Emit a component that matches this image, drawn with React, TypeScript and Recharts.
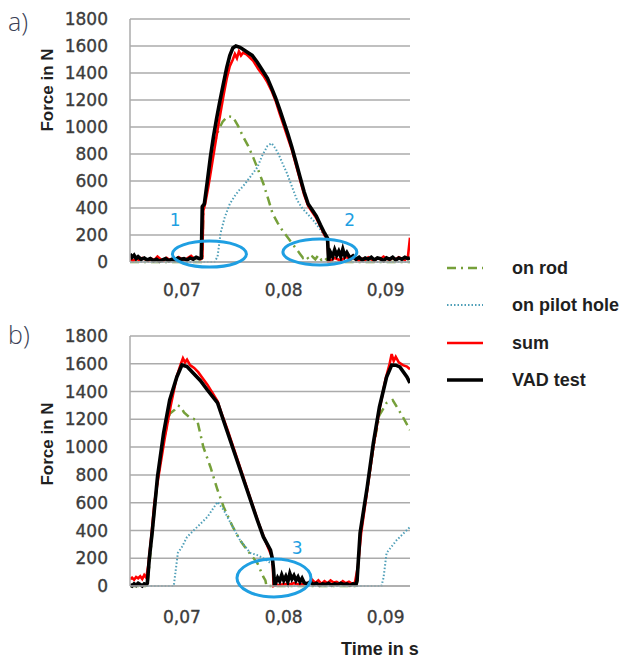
import React from 'react';
import { LineChart, Line, XAxis, YAxis, CartesianGrid, ReferenceDot } from 'recharts';

type Pt = [number, number];

// ---------- axes ----------
const timeTicks = [0.07, 0.08, 0.09];
const forceTicks = [0, 200, 400, 600, 800, 1000, 1200, 1400, 1600, 1800];
const timeDomain: [number, number] = [0.0649, 0.0924];
const forceDomain: [number, number] = [0, 1800];

// ---------- chart a) : [time in s, force in N] ----------
const aRod: Pt[] = [
  [0.0649, 0], [0.0720, 0], [0.0721, 380], [0.0724, 520], [0.0728, 720], [0.0732, 880], [0.0736, 980],
  [0.0740, 1040], [0.0745, 1080], [0.0750, 1075], [0.0755, 1010], [0.0760, 930], [0.0765, 860],
  [0.0770, 775], [0.0775, 680], [0.0780, 580], [0.0785, 460], [0.0789, 360], [0.0794, 290],
  [0.0799, 230], [0.0803, 190], [0.0807, 150], [0.0811, 110], [0.0816, 60], [0.0819, 30],
  [0.0822, 45], [0.0825, 15], [0.0828, 40], [0.0831, 20], [0.0834, 50], [0.0837, 15], [0.0840, 35],
  [0.0843, 10], [0.0844, 0], [0.0924, 0],
];
const aPilot: Pt[] = [
  [0.0649, 0], [0.0732, 0], [0.0735, 40], [0.0738, 215], [0.0742, 330], [0.0747, 430], [0.0752, 490],
  [0.0756, 530], [0.0760, 560], [0.0765, 610], [0.0770, 660], [0.0774, 700], [0.0779, 790],
  [0.0784, 860], [0.0788, 880], [0.0792, 840], [0.0796, 780], [0.0800, 710], [0.0803, 660],
  [0.0806, 600], [0.0810, 520], [0.0813, 460], [0.0818, 400], [0.0824, 350], [0.0830, 300],
  [0.0836, 240], [0.0840, 190], [0.0843, 160], [0.0844, 0], [0.0924, 0],
];
const aSum: Pt[] = [
  [0.0649, 20], [0.0652, 10], [0.0655, 25], [0.0658, 15], [0.0661, 30], [0.0664, 20], [0.0667, 10],
  [0.0670, 25], [0.0673, 15], [0.0676, 40], [0.0679, 20], [0.0682, 10], [0.0685, 30], [0.0688, 15],
  [0.0691, 25], [0.0694, 10], [0.0697, 35], [0.0700, 20], [0.0703, 15], [0.0706, 30], [0.0709, 45],
  [0.0712, 25], [0.0715, 35], [0.0718, 20], [0.0720, 30],
  [0.0721, 380], [0.0723, 440], [0.0726, 560], [0.0729, 700], [0.0732, 840], [0.0735, 980],
  [0.0738, 1110], [0.0741, 1240], [0.0744, 1360], [0.0747, 1450], [0.0750, 1500], [0.0752, 1540],
  [0.0754, 1510], [0.0756, 1560], [0.0758, 1530], [0.0760, 1550], [0.0763, 1540], [0.0766, 1520],
  [0.0770, 1490], [0.0775, 1430], [0.0780, 1380], [0.0784, 1330], [0.0788, 1270], [0.0792, 1195],
  [0.0796, 1100], [0.0800, 1010], [0.0804, 920], [0.0808, 830], [0.0812, 720], [0.0816, 610],
  [0.0820, 500], [0.0824, 415], [0.0828, 370], [0.0832, 325], [0.0836, 265], [0.0840, 200],
  [0.0843, 165],
  [0.0844, 5], [0.0847, 15], [0.0850, 30], [0.0853, 20], [0.0856, 10], [0.0859, 25], [0.0862, 40],
  [0.0865, 15], [0.0868, 30], [0.0871, 20], [0.0874, 10], [0.0877, 25], [0.0880, 15], [0.0883, 35],
  [0.0886, 20], [0.0889, 10], [0.0892, 30], [0.0895, 20], [0.0898, 40], [0.0901, 25], [0.0904, 15],
  [0.0907, 30], [0.0910, 20], [0.0913, 35], [0.0916, 25], [0.0919, 15], [0.0922, 40], [0.0924, 180],
];
const aVad: Pt[] = [
  [0.0649, 60], [0.0651, 35], [0.0653, 50], [0.0655, 25], [0.0657, 40], [0.0660, 20], [0.0663, 30],
  [0.0666, 15], [0.0669, 25], [0.0672, 10], [0.0675, 20], [0.0678, 5], [0.0681, 15], [0.0684, 25],
  [0.0687, 10], [0.0690, 20], [0.0693, 15], [0.0696, 30], [0.0699, 20], [0.0702, 25], [0.0705, 15],
  [0.0708, 30], [0.0711, 20], [0.0714, 35], [0.0717, 25], [0.0719, 30],
  [0.0720, 410], [0.0722, 430], [0.0725, 600], [0.0728, 780], [0.0731, 930], [0.0734, 1060],
  [0.0737, 1180], [0.0741, 1330], [0.0744, 1440], [0.0747, 1530], [0.0750, 1585], [0.0753, 1600],
  [0.0757, 1590], [0.0761, 1570], [0.0765, 1550], [0.0769, 1530], [0.0774, 1480], [0.0779, 1420],
  [0.0784, 1360], [0.0788, 1290], [0.0792, 1215], [0.0796, 1130], [0.0800, 1040], [0.0804, 950],
  [0.0808, 850], [0.0812, 740], [0.0816, 630], [0.0820, 520], [0.0824, 430], [0.0828, 385],
  [0.0832, 340], [0.0836, 275], [0.0840, 215], [0.0843, 175],
  [0.0844, 10], [0.0846, 70], [0.0848, 40], [0.0850, 90], [0.0852, 50], [0.0854, 80], [0.0856, 40],
  [0.0858, 95], [0.0860, 45], [0.0862, 70], [0.0865, 30], [0.0868, 45], [0.0871, 20], [0.0874, 35],
  [0.0877, 15], [0.0880, 30], [0.0883, 20], [0.0886, 35], [0.0889, 15], [0.0892, 30], [0.0895, 25],
  [0.0898, 10], [0.0901, 30], [0.0904, 20], [0.0907, 35], [0.0910, 15], [0.0913, 30], [0.0916, 20],
  [0.0919, 35], [0.0922, 25], [0.0924, 30],
];

// ---------- chart b) ----------
const bRod: Pt[] = [
  [0.0649, 0], [0.0666, 0], [0.0668, 150], [0.0671, 390], [0.0676, 760], [0.0682, 1050],
  [0.0688, 1240], [0.0693, 1270], [0.0696, 1300], [0.0699, 1290], [0.0702, 1250], [0.0708, 1210],
  [0.0715, 1195], [0.0721, 1001], [0.0728, 857], [0.0735, 691], [0.0741, 569], [0.0750, 425],
  [0.0757, 331], [0.0764, 259], [0.0774, 166], [0.0780, 65], [0.0782, 40], [0.0783, 0],
  [0.0872, 0], [0.0875, 380], [0.0882, 700], [0.0888, 1000], [0.0894, 1230], [0.0901, 1318],
  [0.0907, 1339], [0.0917, 1217], [0.0924, 1123],
];
const bPilot: Pt[] = [
  [0.0649, 0], [0.0655, 0], [0.0660, 10], [0.0665, 0], [0.0692, 0], [0.0694, 120], [0.0696, 238],
  [0.0700, 281], [0.0705, 353], [0.0715, 425], [0.0725, 497], [0.0735, 605], [0.0741, 547],
  [0.0750, 425], [0.0757, 331], [0.0767, 238], [0.0775, 220], [0.0782, 190], [0.0788, 160],
  [0.0790, 140], [0.0791, 0], [0.0896, 0], [0.0898, 60], [0.0901, 238], [0.0911, 331], [0.0924, 425],
];
const bSum: Pt[] = [
  [0.0649, 50], [0.0651, 60], [0.0653, 45], [0.0655, 65], [0.0657, 55], [0.0659, 70], [0.0661, 50],
  [0.0663, 80], [0.0665, 60], [0.0667, 150], [0.0670, 360], [0.0673, 600], [0.0677, 790],
  [0.0683, 1060], [0.0689, 1300], [0.0695, 1510], [0.0699, 1600], [0.0701, 1640], [0.0703, 1610],
  [0.0705, 1630], [0.0708, 1590], [0.0712, 1570], [0.0716, 1540], [0.0720, 1500], [0.0725, 1450],
  [0.0730, 1390], [0.0735, 1330], [0.0740, 1220], [0.0745, 1120], [0.0750, 1010], [0.0755, 900],
  [0.0760, 790], [0.0765, 680], [0.0770, 570], [0.0775, 460], [0.0780, 360], [0.0785, 270],
  [0.0789, 200], [0.0790, 0],
  [0.0793, 10], [0.0796, 5], [0.0800, 15], [0.0805, 10], [0.0810, 20], [0.0815, 10], [0.0820, 15],
  [0.0825, 25], [0.0828, 45], [0.0831, 20], [0.0834, 40], [0.0837, 15], [0.0840, 35], [0.0843, 20],
  [0.0846, 40], [0.0849, 25], [0.0852, 30], [0.0855, 15], [0.0858, 35], [0.0861, 20], [0.0864, 30],
  [0.0867, 15], [0.0870, 25],
  [0.0873, 150], [0.0876, 380], [0.0882, 690], [0.0888, 1000], [0.0894, 1270], [0.0900, 1490],
  [0.0904, 1600], [0.0906, 1670], [0.0908, 1620], [0.0910, 1650], [0.0913, 1610], [0.0917, 1590],
  [0.0921, 1580], [0.0924, 1560],
];
const bVad: Pt[] = [
  [0.0649, 10], [0.0651, 0], [0.0653, 15], [0.0655, 5], [0.0657, 20], [0.0659, 10], [0.0661, 0],
  [0.0663, 15], [0.0665, 10], [0.0666, 20],
  [0.0668, 200], [0.0671, 403], [0.0676, 785], [0.0682, 1102], [0.0688, 1339], [0.0695, 1505],
  [0.0700, 1591], [0.0705, 1580], [0.0711, 1534], [0.0718, 1480], [0.0725, 1411], [0.0735, 1318],
  [0.0744, 1123], [0.0754, 907], [0.0764, 691], [0.0774, 475], [0.0780, 353], [0.0787, 259],
  [0.0789, 190], [0.0790, 120], [0.0791, 0],
  [0.0794, 60], [0.0796, 35], [0.0798, 80], [0.0800, 40], [0.0802, 70], [0.0804, 30], [0.0806, 90],
  [0.0808, 50], [0.0810, 75], [0.0812, 40], [0.0814, 65], [0.0816, 30], [0.0818, 55], [0.0820, 25],
  [0.0823, 15], [0.0826, 30], [0.0829, 10], [0.0832, 20], [0.0835, 5], [0.0838, 15], [0.0841, 10],
  [0.0844, 20], [0.0847, 5], [0.0850, 15], [0.0853, 10], [0.0856, 20], [0.0859, 10], [0.0862, 15],
  [0.0865, 5], [0.0868, 15], [0.0871, 10],
  [0.0872, 40], [0.0875, 382], [0.0882, 713], [0.0888, 1030], [0.0894, 1289], [0.0901, 1505],
  [0.0906, 1591], [0.0910, 1590], [0.0914, 1577], [0.0921, 1505], [0.0924, 1462],
];

// ---------- annotations: [time, force, label] ----------
const aMarks: [number, number, string][] = [[0.0727, 59, '1'], [0.08355, 74, '2']];
const aMarkLabels: [number, number, string][] = [[0.06934, 311, '1'], [0.08648, 311, '2']];
const bMarks: [number, number, string][] = [[0.07904, 58, '3']];
const bMarkLabels: [number, number, string][] = [[0.08131, 274, '3']];

// ---------- series styles / legend ----------
const legendNames = ['on rod', 'on pilot hole', 'sum', 'VAD test'];
const seriesStyles = [
  { color: '#76a03a', width: 2.5, dash: '9 5 2 5' as string | undefined },
  { color: '#4f9fb8', width: 2, dash: '1.5 2' as string | undefined },
  { color: '#ff0000', width: 2.6, dash: undefined as string | undefined },
  { color: '#000000', width: 3.6, dash: undefined as string | undefined },
];

const ELLIPSE_BLUE = '#1f9fe2';
const AXIS_FONT = '"DejaVu Sans", sans-serif';
const BOLD_FONT = '"Liberation Sans", Arial, sans-serif';
const TICK_COLOR = '#3c3c3c';

const toRows = (pts: Pt[]) => pts.map(([t, f]) => ({ t, f }));
const fmtTime = (v: number) => String(v).replace('.', ',');

const YTick = (props: any) => {
  const { x, y, payload } = props;
  return (
    <text x={x} y={y} dy="0.36em" textAnchor="end" fill={TICK_COLOR} stroke={TICK_COLOR} strokeWidth={0.35}
      fontFamily={AXIS_FONT} fontSize={17}>
      {payload.value}
    </text>
  );
};
const XTick = (props: any) => {
  const { x, y, payload } = props;
  return (
    <text x={x} y={y} dy="0.36em" textAnchor="middle" fill={TICK_COLOR} stroke={TICK_COLOR} strokeWidth={0.35}
      fontFamily={AXIS_FONT} fontSize={17}>
      {fmtTime(payload.value)}
    </text>
  );
};

const EllipseShape = (props: any) => (
  <ellipse cx={props.cx} cy={props.cy} rx={37} ry={props.ry} fill="none" stroke={ELLIPSE_BLUE} strokeWidth={3} />
);
const NumShape = (props: any) => (
  <text x={props.cx} y={props.cy} dy="0.36em" textAnchor="middle" fill={ELLIPSE_BLUE} fontFamily={AXIS_FONT} fontSize={17}>
    {props.text}
  </text>
);

function ForceChart(props: {
  series: Pt[][];
  marks: [number, number, string][];
  markLabels: [number, number, string][];
  height: number;
  tickGap: number;
  ry: number;
}) {
  const { series, marks, markLabels, height, tickGap, ry } = props;
  return (
    <LineChart width={622} height={height} margin={{ top: 19, right: 212, bottom: 18, left: 0 }}>
      <CartesianGrid vertical={false} stroke="#ababab" strokeWidth={1.5} />
      <XAxis
        dataKey="t"
        type="number"
        domain={timeDomain}
        ticks={timeTicks}
        allowDataOverflow
        height={30}
        tickSize={0}
        tickMargin={tickGap}
        tickLine={false}
        axisLine={{ stroke: '#ababab', strokeWidth: 1.5 }}
        tick={<XTick />}
      />
      <YAxis
        type="number"
        domain={forceDomain}
        ticks={forceTicks}
        width={130}
        tickSize={0}
        tickMargin={22}
        tickLine={false}
        axisLine={{ stroke: '#ababab', strokeWidth: 1.5 }}
        tick={<YTick />}
      />
      {series.map((pts, i) => (
        <Line
          key={legendNames[i]}
          name={legendNames[i]}
          data={toRows(pts)}
          dataKey="f"
          type="linear"
          stroke={seriesStyles[i].color}
          strokeWidth={seriesStyles[i].width}
          strokeDasharray={seriesStyles[i].dash}
          dot={false}
          activeDot={false}
          isAnimationActive={false}
        />
      ))}
      {marks.map(([t, f, k]) => (
        <ReferenceDot key={'e' + k} x={t} y={f} r={0} ifOverflow="visible" shape={(p: any) => <EllipseShape {...p} ry={ry} />} />
      ))}
      {markLabels.map(([t, f, k]) => (
        <ReferenceDot key={'l' + k} x={t} y={f} r={0} ifOverflow="visible" shape={(p: any) => <NumShape {...p} text={k} />} />
      ))}
    </LineChart>
  );
}

export default function App() {
  const legendRows = [268, 305, 343, 380];
  return (
    <div style={{ position: 'absolute', left: 0, top: 0, width: 622, height: 662, background: '#fff', overflow: 'hidden' }}>
      <div style={{ position: 'absolute', left: 0, top: 0 }}>
        <ForceChart series={[aRod, aPilot, aSum, aVad]} marks={aMarks} markLabels={aMarkLabels} height={310} tickGap={28} ry={13} />
      </div>
      <div style={{ position: 'absolute', left: 0, top: 317 }}>
        <ForceChart series={[bRod, bPilot, bSum, bVad]} marks={bMarks} markLabels={bMarkLabels} height={317} tickGap={31} ry={19} />
      </div>
      <svg width={622} height={662} style={{ position: 'absolute', left: 0, top: 0, pointerEvents: 'none' }}>
        <text x={8} y={31} fontFamily='"Open Sans", sans-serif' fontWeight={300} fontSize={25} fill="#3a3f55">a)</text>
        <text x={8} y={344} fontFamily='"Open Sans", sans-serif' fontWeight={300} fontSize={25} fill="#3a3f55">b)</text>
        <text x={47} y={90} transform="rotate(-90 47 90)" textAnchor="middle" dominantBaseline="central"
          fontFamily={BOLD_FONT} fontWeight="bold" fontSize={17} fill="#1f1f1f">Force in N</text>
        <text x={47} y={444} transform="rotate(-90 47 444)" textAnchor="middle" dominantBaseline="central"
          fontFamily={BOLD_FONT} fontWeight="bold" fontSize={17} fill="#1f1f1f">Force in N</text>
        <text x={341} y={649} dominantBaseline="central" fontFamily={BOLD_FONT} fontWeight="bold" fontSize={18} fill="#1f1f1f">Time in s</text>
        {legendNames.map((n, i) => (
          <g key={n}>
            <line x1={447} x2={483} y1={legendRows[i]} y2={legendRows[i]} stroke={seriesStyles[i].color}
              strokeWidth={seriesStyles[i].width} strokeDasharray={seriesStyles[i].dash} />
            <text x={512} y={legendRows[i]} dominantBaseline="central" fontFamily={BOLD_FONT} fontWeight="bold"
              fontSize={18} fill="#1f1f1f">{n}</text>
          </g>
        ))}
      </svg>
    </div>
  );
}
